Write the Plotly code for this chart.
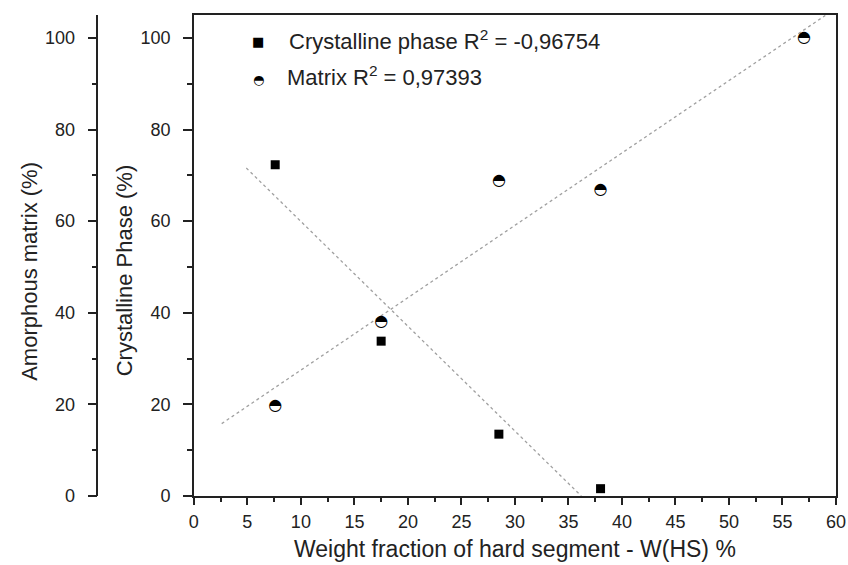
import plotly.graph_objects as go

# ---- data ----
whs_cryst = [7.6, 17.5, 28.5, 38.0]
cryst_phase = [72.3, 33.8, 13.5, 1.6]
whs_matrix = [7.6, 17.5, 28.5, 38.0, 57.0]
matrix_phase = [19.7, 38.0, 68.8, 66.7, 100.0]
fit_cryst_x = [4.9, 36.2]
fit_cryst_y = [71.6, 0.0]
fit_matrix_x = [2.6, 59.0]
fit_matrix_y = [15.8, 104.9]
x_ticks = list(range(0, 61, 5))
y_ticks = list(range(0, 101, 20))

W, H = 848, 565
ML, MR, MT, MB = 0, 12, 15, 69
PW, PH = W - ML - MR, H - MT - MB
PLOT_LEFT = 190
FREE_AXIS_X = 93


def px(xp):
    return (xp - ML) / PW


def py(yp):
    return (H - MB - yp) / PH


AX = "#222222"
FONT = "Liberation Sans, Arial, sans-serif"
HALF = "\u25d3"
SQUARE = "\u25a0"

fig = go.Figure()
fig.add_trace(go.Scatter(x=fit_cryst_x, y=fit_cryst_y, mode="lines",
                         line=dict(color="#a0a0a0", width=1.3, dash="3px,3px"),
                         showlegend=False, hoverinfo="skip"))
fig.add_trace(go.Scatter(x=fit_matrix_x, y=fit_matrix_y, mode="lines", yaxis="y2",
                         line=dict(color="#a0a0a0", width=1.3, dash="3px,3px"),
                         showlegend=False, hoverinfo="skip"))
fig.add_trace(go.Scatter(x=whs_cryst, y=cryst_phase, mode="markers",
                         marker=dict(symbol="square", size=9, color="black"),
                         showlegend=False))
fig.add_trace(go.Scatter(x=whs_matrix, y=matrix_phase, mode="markers+text", yaxis="y2",
                         marker=dict(symbol="circle", size=10, color="white",
                                     line=dict(width=0)),
                         text=[HALF] * len(whs_matrix), textposition="middle center",
                         textfont=dict(family="DejaVu Sans", size=16, color="black"),
                         showlegend=False))

tickfont = dict(family=FONT, size=18, color=AX)
common_y = dict(range=[0, 105], tickvals=y_ticks, ticks="outside", ticklen=9,
                tickwidth=1.5, tickcolor=AX, showline=True, linecolor=AX,
                linewidth=1.5, showgrid=False, zeroline=False, tickfont=tickfont,
                ticklabelstandoff=9,
                minor=dict(ticks="outside", ticklen=5, dtick=10, tick0=0,
                           tickwidth=1.5, tickcolor=AX, showgrid=False))

fig.update_layout(
    width=W, height=H,
    margin=dict(l=ML, r=MR, t=MT, b=MB, pad=0),
    paper_bgcolor="white", plot_bgcolor="white",
    xaxis=dict(domain=[px(PLOT_LEFT), 1], range=[0, 60], tickvals=x_ticks,
               ticks="outside", ticklen=7, tickwidth=1.5, tickcolor=AX,
               showline=True, linecolor=AX, linewidth=1.5, mirror=True,
               showgrid=False, zeroline=False, tickfont=tickfont,
               ticklabelstandoff=2,
               minor=dict(ticks="outside", ticklen=4, dtick=2.5, tick0=0,
                          tickwidth=1.5, tickcolor=AX, showgrid=False)),
    yaxis=dict(anchor="x", mirror=True, **common_y),
    yaxis2=dict(overlaying="y", anchor="free", position=px(FREE_AXIS_X),
                side="left", **common_y),
    showlegend=False,
)

ann_font = dict(family=FONT, size=22, color=AX)
annotations = [
    dict(text="Weight fraction of hard segment - W(HS) %", x=px(513), y=py(549),
         xref="paper", yref="paper", showarrow=False,
         font=dict(family=FONT, size=23, color=AX),
         xanchor="center", yanchor="middle"),
    dict(text="Amorphous matrix (%)", x=px(24), y=py(271), xref="paper", yref="paper",
         showarrow=False, font=ann_font, textangle=-90, xanchor="center", yanchor="middle"),
    dict(text="Crystalline Phase (%)", x=px(120), y=py(270), xref="paper", yref="paper",
         showarrow=False, font=ann_font, textangle=-90, xanchor="center", yanchor="middle"),
    dict(text=SQUARE, x=px(255), y=py(41), xref="paper", yref="paper", showarrow=False,
         font=dict(family="DejaVu Sans", size=13, color="black"),
         xanchor="center", yanchor="middle"),
    dict(text=HALF, x=px(255), y=py(80), xref="paper", yref="paper", showarrow=False,
         font=dict(family="DejaVu Sans", size=13, color="black"),
         xanchor="center", yanchor="middle"),
    dict(text="Crystalline phase R<sup>2</sup> = -0,96754", x=px(284), y=py(40),
         xref="paper", yref="paper", showarrow=False, font=ann_font,
         xanchor="left", yanchor="middle"),
    dict(text="Matrix R<sup>2</sup> = 0,97393", x=px(282), y=py(76),
         xref="paper", yref="paper", showarrow=False, font=ann_font,
         xanchor="left", yanchor="middle"),
]
fig.update_layout(annotations=annotations)

fig.write_html("out.html")
